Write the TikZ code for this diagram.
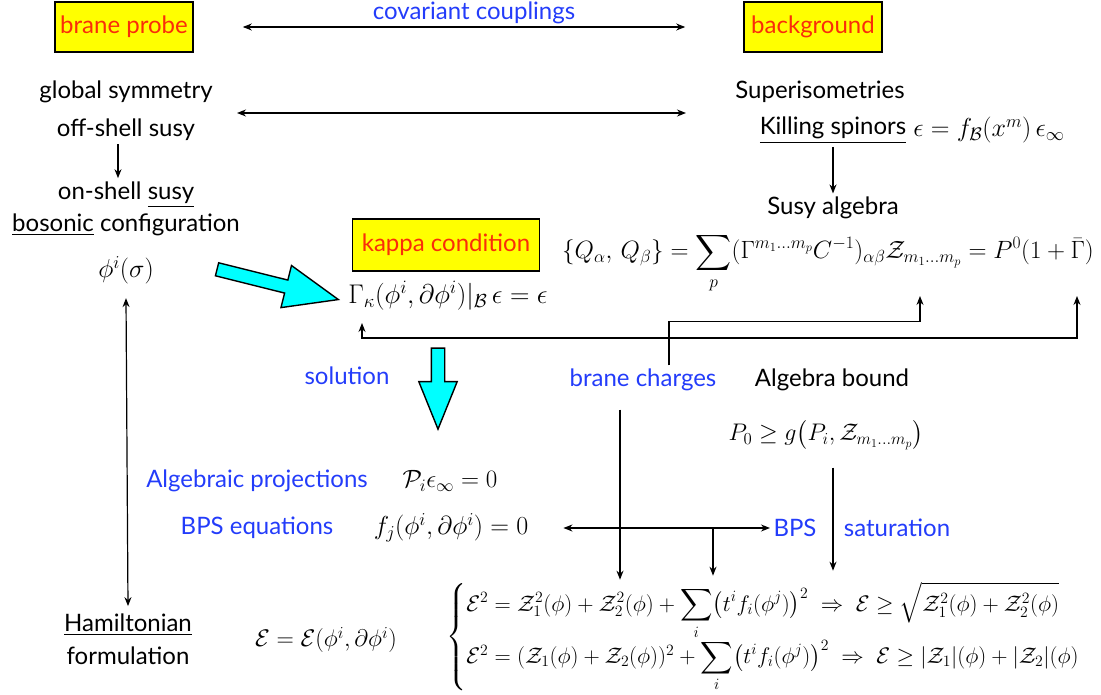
\RequirePackage{fix-cm}
\documentclass[tikz,border=0pt]{standalone}
\usepackage{amsmath}
\usepackage{amssymb}
\usepackage[no-math]{fontspec}
\setmainfont{Lato}
\usetikzlibrary{calc,arrows.meta,shapes.arrows}
\definecolor{chargeblue}{RGB}{35,60,250}
\definecolor{boxred}{RGB}{250,45,10}
\definecolor{boxyellow}{RGB}{255,255,0}
\definecolor{fatcyan}{RGB}{0,255,255}

\begin{document}
\begin{tikzpicture}[x=1pt, y=-1pt, font=\fontsize{24}{29}\selectfont,
  eqn/.style={font=\fontsize{26}{31}\selectfont, inner sep=2pt},
  keybox/.style={draw, line width=1.6pt, fill=boxyellow, text=boxred, minimum width=138pt, minimum height=50pt},
  bluelabel/.style={text=chargeblue},
  link/.style={line width=1.2pt, >={Stealth[length=9pt, width=7pt]}},
  fatarrow/.style={single arrow, draw, line width=1.4pt, fill=fatcyan, inner xsep=0pt, inner ysep=6pt, single arrow head extend=15pt, single arrow tip angle=44}]
  \useasboundingbox (0,0) rectangle (1101,695);

  % top row
  \node[keybox] (probe) at (124,27) {brane probe};
  \node[keybox] (backgr) at (813,27) {background};
  \node[bluelabel] (couplings) at (474,13) {covariant couplings};
  \draw[link,<->] ($(probe.east)+(49,0)$) -- ($(backgr.west)+(-58,0)$);

  % probe side
  \node (gsym) at (126,92) {global symmetry};
  \node (offshell) at (126,130) {off-shell susy};
  \node (onshell) at (126,195) {on-shell \underline{susy}};
  \node (bosonic) at (126,225) {\underline{bosonic} configuration};
  \node[eqn] (phi) at (126,270) {$\phi^i(\sigma)$};
  \draw[link,->] ([xshift=-8pt]offshell.south) -- ([xshift=-8pt]onshell.north);

  % background side
  \node (superiso) at (820,92) {Superisometries};
  \node (killing) at (833,130) {\underline{Killing spinors}};
  \node[eqn] (killeq) at (989,130) {$\epsilon = f_{\mathcal B}(x^m)\,\epsilon_\infty$};
  \node (susyalg) at (833,208) {Susy algebra};
  \node[eqn, font=\fontsize{25}{30}\selectfont, anchor=base] (algebra) at (828,259) {$\{Q_\alpha,\,Q_\beta\}=\displaystyle\sum_p(\Gamma^{m_1\dots m_p}C^{-1})_{\alpha\beta}\mathcal Z_{m_1\dots m_p}=P^0(1+\bar\Gamma)$};
  \draw[link,->] (killing.south) -- (susyalg.north);
  \coordinate (symL) at (237,113);
  \coordinate (symR) at (686,113);
  \draw[link,<->] (symL) -- (symR);

  % kappa condition
  \node[keybox, minimum width=187pt, minimum height=52pt] (kapbox) at (446,245) {kappa condition};
  \node[eqn, font=\fontsize{27}{32}\selectfont] (kappaeq) at (448,296) {$\Gamma_\kappa(\phi^i,\partial\phi^i)|_{\mathcal B}\,\epsilon=\epsilon$};
  \node[fatarrow, minimum height=125pt, rotate=-14, anchor=tip] (toKappa) at ($(kappaeq.west)+(-6,4)$) {};
  \node[fatarrow, minimum height=81pt, single arrow head extend=12.5pt, rotate=-90, anchor=tip] (toSolution) at (438,431) {};
  \node[bluelabel] (solution) at (347,376) {solution};

  % returns to the algebra
  \coordinate (kapfoot) at (362,323);
  \coordinate (gbar) at (1077,296);
  \coordinate (zsub) at (920,296);
  \draw[link,<->] (kapfoot) -- ++(0,15) -| (gbar);
  \node[bluelabel] (charges) at (643,380) {brane charges};
  \node (algb) at (832,380) {Algebra bound};
  \node[eqn, font=\fontsize{24}{29}\selectfont] (bound) at (826,435) {$P_0\geq g\big(P_i,\mathcal Z_{m_1\dots m_p}\big)$};
  \draw[link,->] ($(charges.north)+(26,0)$) -- ++(0,-44) -| (zsub);

  % solutions
  \node[bluelabel] (projlab) at (257,481) {Algebraic projections};
  \node[eqn, font=\fontsize{25}{30}\selectfont] (projeq) at (450,481) {$\mathcal P_i\epsilon_\infty=0$};
  \node[bluelabel] (bpslab) at (257,528) {BPS equations};
  \node[eqn] (fjeq) at (451,528) {$f_j(\phi^i,\partial\phi^i)=0$};
  \node[bluelabel] (bps) at (795,528) {BPS};
  \node[bluelabel] (satur) at (897,528) {saturation};

  % hamiltonian
  \node (hamil) at (128,625) {\underline{Hamiltonian}};
  \node (formul) at (128,656) {formulation};
  \node[eqn, font=\fontsize{24}{29}\selectfont] (energy) at (326,640) {$\mathcal E=\mathcal E(\phi^i,\partial\phi^i)$};
  \node[eqn, font=\fontsize{22.5}{27}\selectfont] (sys) at (763,637) {$\left\{\begin{array}{@{}l@{}}
    \mathcal E^2=\mathcal Z_1^2(\phi)+\mathcal Z_2^2(\phi)+\displaystyle\sum_i\bigl(t^if_i(\phi^j)\bigr)^2\;\Rightarrow\;\mathcal E\geq\sqrt{\mathcal Z_1^2(\phi)+\mathcal Z_2^2(\phi)}\\[4pt]
    \mathcal E^2=(\mathcal Z_1(\phi)+\mathcal Z_2(\phi))^2+\displaystyle\sum_i\bigl(t^if_i(\phi^j)\bigr)^2\;\Rightarrow\;\mathcal E\geq|\mathcal Z_1|(\phi)+|\mathcal Z_2|(\phi)
  \end{array}\right.$};

  \draw[link,<->] ([yshift=-12pt]phi.south) -- ([yshift=4pt]hamil.north);
  \draw[link,<->] ($(fjeq.east)+(33,0)$) -- (bps.west);
  \coordinate (chgdn) at ($(charges.south)+(-23,15)$);
  \coordinate (bpsmid) at (713,528);
  \coordinate (bnddn) at ($(bound.south)+(7,16)$);
  \draw[link,->] (chgdn) -- (chgdn |- sys.north);
  \draw[link,->] (bpsmid) -- ([yshift=4pt]bpsmid |- sys.north);
  \draw[link,->] (bnddn) -- ([yshift=9pt]bnddn |- sys.north);
\end{tikzpicture}
\end{document}
